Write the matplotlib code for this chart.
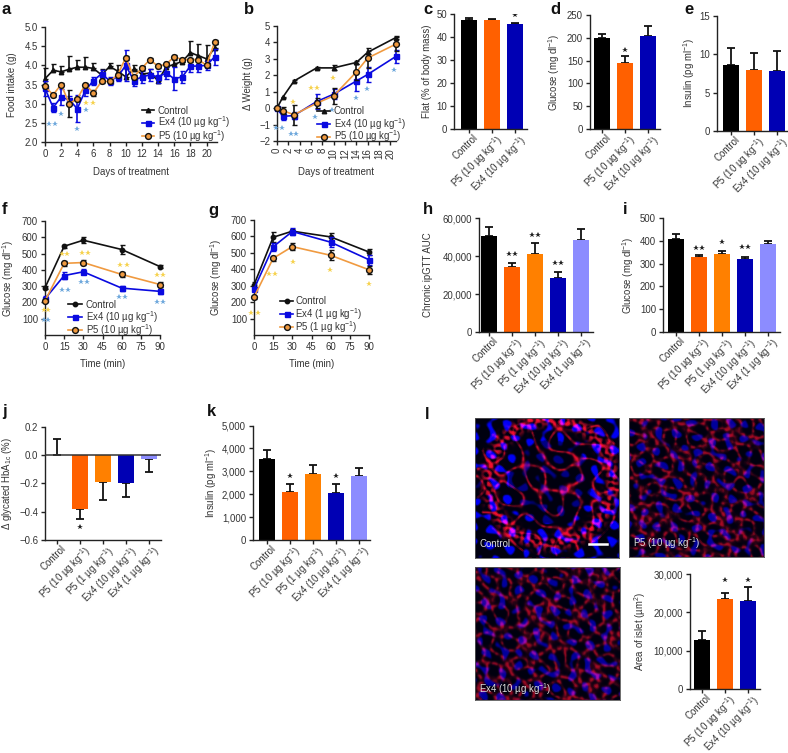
import numpy as np
import matplotlib
matplotlib.use('Agg')
import matplotlib.pyplot as plt
from matplotlib.lines import Line2D
from matplotlib.transforms import ScaledTranslation

W, H = 788, 753
FS = 6.9
plt.rcParams['font.family'] = ['Liberation Sans', 'DejaVu Sans']
plt.rcParams['mathtext.fontset'] = 'custom'
plt.rcParams['mathtext.rm'] = 'Liberation Sans'
plt.rcParams['mathtext.default'] = 'regular'
plt.rcParams['font.size'] = FS
plt.rcParams['text.color'] = '#333333'
plt.rcParams['axes.labelcolor'] = '#333333'
plt.rcParams['xtick.color'] = '#222222'
plt.rcParams['ytick.color'] = '#222222'
plt.rcParams['xtick.labelcolor'] = '#333333'
plt.rcParams['ytick.labelcolor'] = '#333333'

BLACK = '#000000'
RED_OR = '#FF6000'
ORANGE = '#FF8000'
DBLUE = '#0000B4'
LBLUE = '#8C8CFF'
LINE_BLUE = '#0A0AE0'
LINE_OR = '#F09A40'
STAR_B = '#6FA8DC'
STAR_Y = '#F6D24E'

# panel a
days_a = list(range(22))
a_ctrl = [3.65, 3.87, 3.83, 3.9, 3.95, 3.95, 3.92, 3.75, 3.97, 3.85, 3.7, 3.9, 3.77, 3.8, 3.6, 3.95, 4.03, 4.1, 4.33, 4.25, 4.17, 4.45]
a_ctrl_err = [0.27, 0.17, 0.15, 0.35, 0.2, 0.27, 0.15, 0.15, 0.1, 0.15, 0.2, 0.12, 0.2, 0.1, 0.1, 0.1, 0.1, 0.05, 0.3, 0.3, 0.35, 0.1]
a_ex4 = [3.4, 2.9, 3.17, 3.1, 2.87, 3.35, 3.6, 3.78, 3.6, 3.7, 4.0, 3.6, 3.7, 3.75, 3.7, 3.8, 3.65, 3.7, 3.98, 3.98, 4.0, 4.22]
a_ex4_err = [0.2, 0.12, 0.2, 0.1, 0.35, 0.15, 0.1, 0.1, 0.1, 0.1, 0.4, 0.15, 0.15, 0.15, 0.15, 0.15, 0.3, 0.15, 0.15, 0.15, 0.12, 0.2]
a_p5 = [3.45, 3.23, 3.5, 3.0, 3.13, 3.5, 3.28, 3.58, 3.58, 3.75, 4.2, 3.7, 3.93, 4.15, 3.97, 4.03, 4.22, 4.15, 4.15, 4.15, 4.0, 4.6]
a_p5_err = [0.05, 0.05, 0.05, 0.35, 0.05, 0.05, 0.08, 0.05, 0.05, 0.05, 0.05, 0.05, 0.05, 0.05, 0.05, 0.05, 0.05, 0.05, 0.05, 0.05, 0.05, 0.05]
a_stars_b = [(0.5, 2.48), (1.2, 2.48), (2, 2.72), (4, 2.35), (5.1, 2.83)]
a_stars_y = [(5.1, 3.02), (6, 3.03)]

# panel b
days_b = [0, 1, 3, 7, 10, 14, 16, 21]
b_ctrl = [0, 0.65, 1.65, 2.45, 2.45, 2.78, 3.4, 4.3]
b_ctrl_err = [0, 0.05, 0.08, 0.08, 0.15, 0.1, 0.1, 0.1]
b_ex4 = [0, -0.5, -0.45, 0.4, 0.85, 1.65, 2.05, 3.15]
b_ex4_err = [0, 0.2, 0.2, 0.45, 0.3, 0.6, 0.45, 0.4]
b_p5 = [0, -0.15, -0.4, 0.3, 0.75, 2.2, 3.05, 3.9]
b_p5_err = [0, 0.2, 0.6, 0.3, 0.5, 0.5, 0.6, 0.45]
b_stars_b = [(-0.1, -1.2), (0.9, -1.2), (2.5, -1.55), (3.4, -1.55), (6.7, -0.55), (9.7, -0.1), (13.9, 0.6), (15.9, 1.15), (20.7, 2.3)]
b_stars_y = [(2.8, 0.35), (6, 1.25), (7, 1.25), (9.8, 1.85)]

# panels f, g
times = [0, 15, 30, 60, 90]
f_ctrl = [290, 545, 582, 525, 420]
f_ctrl_err = [10, 10, 20, 25, 10]
f_ex4 = [222, 365, 388, 288, 268]
f_ex4_err = [15, 20, 15, 15, 15]
f_p5 = [210, 440, 445, 372, 310]
f_p5_err = [10, 15, 15, 15, 15]
f_stars_y = [(-1, 155), (2, 155), (13, 496), (17, 496), (29, 504), (33.7, 504), (59, 428), (64.4, 428), (88, 371), (92.7, 371)]
f_stars_b = [(-1, 92), (2, 92), (13.3, 275), (18, 275), (28, 327), (33, 327), (58, 235), (62.5, 235), (88, 204), (92.7, 204)]
g_ctrl = [305, 595, 632, 597, 505]
g_ctrl_err = [15, 30, 15, 25, 20]
g_ex4 = [280, 537, 630, 565, 458]
g_ex4_err = [15, 25, 20, 30, 30]
g_p5 = [230, 467, 538, 485, 397]
g_p5_err = [10, 15, 20, 30, 25]
g_stars_y = [(-2, 135), (3, 135), (12, 370), (16.8, 370), (30.5, 445), (59.7, 393), (90, 312)]

# bar panels
names3 = ['Control', 'P5 (10 µg kg$^{-1}$)', 'Ex4 (10 µg kg$^{-1}$)']
names5 = ['Control', 'P5 (10 µg kg$^{-1}$)', 'P5 (1 µg kg$^{-1}$)', 'Ex4 (10 µg kg$^{-1}$)', 'Ex4 (1 µg kg$^{-1}$)']
c_vals = [47.3, 47.4, 45.7]
c_err = [0.9, 0.6, 0.4]
d_vals = [200, 145, 203]
d_err = [8, 15, 22]
e_vals = [8.6, 7.9, 7.8]
e_err = [2.2, 2.3, 2.6]
h_vals = [50600, 34000, 41300, 28600, 48300]
h_err = [4700, 2450, 5800, 3000, 6100]
i_vals = [408, 330, 340, 318, 388]
i_err = [22, 7, 16, 11, 13]
j_vals = [0, -0.384, -0.192, -0.2, -0.03]
j_err = [0.11, 0.066, 0.124, 0.1, 0.094]
k_vals = [3540, 2080, 2870, 2050, 2810]
k_err = [390, 350, 390, 395, 330]
l_vals = [12770, 23530, 23000]
l_err = [2330, 1470, 3600]

fig = plt.figure(figsize=(W / 100, H / 100), dpi=100, facecolor='white')


def make_ax(left, right, top, bottom, ylabel_x=None, ylabel=None):
    ax = fig.add_axes([left / W, 1 - bottom / H, (right - left) / W, (bottom - top) / H])
    ax.spines['top'].set_visible(False)
    ax.spines['right'].set_visible(False)
    for s in ['left', 'bottom']:
        ax.spines[s].set_linewidth(1.0)
        ax.spines[s].set_color('#222222')
    ax.tick_params(length=3, width=1, pad=2, labelsize=FS)
    if ylabel:
        ax.set_ylabel(ylabel, fontsize=FS, va='center')
        ax.yaxis.set_label_coords((ylabel_x - left) / (right - left), 0.5)
    return ax


def line(ax, x, y, err, color, marker, ms, upper_only=False, mec=None, ecolor='#111111', z=3):
    e = [np.zeros(len(err)), err] if upper_only else err
    ax.errorbar(x, y, yerr=e, color=color, lw=1.2, marker=marker, ms=ms, mfc=color,
                mec=mec or color, mew=1.0, ecolor=ecolor, elinewidth=1.2, capsize=1.8,
                capthick=1.0, clip_on=False, zorder=z)


def stars(ax, pts, color):
    xs = [p[0] for p in pts]
    ys = [p[1] for p in pts]
    ax.plot(xs, ys, ls='none', marker='*', ms=4.2, color=color, mew=0, clip_on=False, zorder=6)


def legend(x0, x1, xt, rows, labels, first_marker='^'):
    # drawn by hand, a real legend spaces the superscript rows unevenly
    styles = [dict(color='#111111', marker=first_marker, ms=3.2),
              dict(color=LINE_BLUE, marker='s', ms=3.6),
              dict(color=LINE_OR, marker='o', ms=4.2, mec='#111111', mew=1.0)]
    for y, label, st in zip(rows, labels, styles):
        fy = 1 - y / H
        fig.add_artist(Line2D([x0 / W, x1 / W], [fy, fy], lw=1.2, transform=fig.transFigure, zorder=8, color=st['color']))
        fig.add_artist(Line2D([(x0 + x1) / 2 / W], [fy], transform=fig.transFigure, ls='none', zorder=9, **st))
        fig.text(xt / W, 1 - (y + 3.5) / H, label, fontsize=FS, va='baseline', zorder=9)


def shift_labels(ax):
    # rotated labels end a little right of their tick in the reference
    off = ScaledTranslation(3.5 / 100, 3.5 / 100, fig.dpi_scale_trans)
    for lbl in ax.get_xticklabels():
        lbl.set_transform(lbl.get_transform() + off)


def bars(ax, vals, errs, colors, names, c0, left, right, step=23):
    xs = np.arange(len(vals))
    ax.bar(xs, vals, width=0.66, color=colors, zorder=2)
    ax.errorbar(xs, vals, yerr=[np.zeros(len(errs)), errs], fmt='none', ecolor='#111111',
                elinewidth=1.3, capsize=2.6, capthick=1.3, zorder=1)
    ax.set_xlim(-(c0 - left) / step, (right - c0) / step)
    ax.set_xticks(xs)
    ax.set_xticklabels(names, rotation=45, ha='right', rotation_mode='anchor', fontsize=FS)
    shift_labels(ax)


def bar_star(ax, x, y, n=1):
    off = [0] if n == 1 else [-0.14, 0.14]
    ax.plot([x + o for o in off], [y] * n, ls='none', marker='*', ms=4, color='#222222', mew=0, zorder=6)


def panel(letter, x, y):
    fig.text(x / W, 1 - y / H, letter, fontsize=12, fontweight='bold', color='#111111', ha='left', va='center')


def quasi(xx, yy, freq, phase):
    # sum of waves in 7 directions, looks irregular but needs no random numbers
    out = np.zeros_like(xx)
    for n in range(7):
        th = n * 2.39996
        out += np.cos(freq * (1 + 0.07 * n) * (xx * np.cos(th) + yy * np.sin(th)) + phase * (n + 1))
    return out / 7


def blur(a):
    out = a.copy()
    for dx, dy in [(1, 0), (-1, 0), (0, 1), (0, -1)]:
        out = out + 0.6 * np.roll(np.roll(a, dx, 1), dy, 0)
    return out / 3.4


def micrograph(left, right, top, bottom, phase, ring=False):
    ax = fig.add_axes([left / W, 1 - bottom / H, (right - left) / W, (bottom - top) / H])
    ny, nx = int(bottom - top), int(right - left)
    yy, xx = np.mgrid[0:ny, 0:nx].astype(float)
    nuc = np.clip((quasi(xx, yy, 0.36, phase) - 0.14) / 0.14, 0, 1)
    grain = np.clip((quasi(xx, yy, 0.8, phase + 0.7) + 0.1) / 0.25, 0, 1)
    if ring:
        r = np.hypot(xx - nx * 0.52, yy - ny * 0.45) / (nx * 0.48)
        cells = np.exp(-(quasi(xx, yy, 0.17, phase) / 0.06) ** 2)
        red = (cells * (0.45 + 0.55 * grain) + 0.9 * np.exp(-((r - 0.9) / 0.09) ** 2) * grain) * (r < 1.08)
        blue = nuc * (0.5 + 0.5 * (r > 0.6)) * 0.9
    else:
        cells = np.exp(-(quasi(xx, yy, 0.26, phase) / 0.16) ** 2)
        red = 0.7 * cells * (0.25 + 0.75 * grain)
        blue = nuc * 0.55
    red = blur(np.clip(red, 0, 1))
    blue = blur(blue)
    img = np.zeros((ny, nx, 3))
    img[..., 0] = red * 0.95
    img[..., 1] = 0.06 * red
    img[..., 2] = np.clip(blue + 0.06 + 0.12 * red, 0, 1)
    ax.imshow(img, aspect='auto', interpolation='bilinear')
    ax.set_xticks([])
    ax.set_yticks([])
    for s in ax.spines.values():
        s.set_color('#555555')
        s.set_linewidth(0.6)
    return ax


# a
ax = make_ax(45, 217, 27, 142, 12, 'Food intake (g)')
line(ax, days_a, a_ctrl, a_ctrl_err, '#111111', '^', 3.2, upper_only=True, z=3)
line(ax, days_a, a_ex4, a_ex4_err, LINE_BLUE, 's', 3.6, ecolor=LINE_BLUE, z=4)
line(ax, days_a, a_p5, a_p5_err, LINE_OR, 'o', 4.2, mec='#111111', z=5)
ax.set_xlim(0, 21.3)
ax.set_ylim(2, 5)
ax.set_xticks(range(0, 21, 2))
ax.set_yticks([2, 2.5, 3, 3.5, 4, 4.5, 5])
ax.set_yticklabels(['2.0', '2.5', '3.0', '3.5', '4.0', '4.5', '5.0'])
ax.set_xlabel('Days of treatment', labelpad=6)
stars(ax, a_stars_b, STAR_B)
stars(ax, a_stars_y, STAR_Y)
legend(142, 154, 158, [110, 123, 136], ['Control', 'Ex4 (10 µg kg$^{-1}$)', 'P5 (10 µg kg$^{-1}$)'])

# b
ax = make_ax(277, 396, 26, 141, 248, 'Δ Weight (g)')
line(ax, days_b, b_ctrl, b_ctrl_err, '#111111', '^', 3.2, z=3)
line(ax, days_b, b_ex4, b_ex4_err, LINE_BLUE, 's', 3.6, ecolor=LINE_BLUE, z=4)
line(ax, days_b, b_p5, b_p5_err, LINE_OR, 'o', 4.2, mec='#111111', z=5)
ax.set_xlim(0, 21)
ax.set_ylim(-2, 5)
ax.set_xticks(range(0, 21, 2))
ax.set_xticklabels(range(0, 21, 2), rotation=90)
ax.set_yticks(range(-2, 6))
ax.set_xlabel('Days of treatment', labelpad=6)
stars(ax, b_stars_b, STAR_B)
stars(ax, b_stars_y, STAR_Y)
legend(317, 330, 334, [111, 124, 137], ['Control', 'Ex4 (10 µg kg$^{-1}$)', 'P5 (10 µg kg$^{-1}$)'])

# c
ax = make_ax(454, 527, 14, 129, 427, 'Flat (% of body mass)')
bars(ax, c_vals, c_err, [BLACK, RED_OR, DBLUE], names3, 469, 454, 527)
ax.set_ylim(0, 50)
ax.set_yticks(range(0, 51, 10))
bar_star(ax, 2, 49.6)

# d
ax = make_ax(590, 660, 15, 129, 554, 'Glucose (mg dl$^{-1}$)')
bars(ax, d_vals, d_err, [BLACK, RED_OR, DBLUE], names3, 602, 590, 660)
ax.set_ylim(0, 250)
ax.set_yticks(range(0, 251, 50))
bar_star(ax, 1, 174)

# e
ax = make_ax(717, 788, 16, 131, 689, 'Insulin (pg ml$^{-1}$)')
bars(ax, e_vals, e_err, [BLACK, RED_OR, DBLUE], names3, 731, 717, 788)
ax.set_ylim(0, 15)
ax.set_yticks([0, 5, 10, 15])

# f
ax = make_ax(45, 160, 221, 335, 8, 'Glucose (mg dl$^{-1}$)')
line(ax, times, f_ctrl, f_ctrl_err, '#111111', 'o', 3.2, z=3)
line(ax, times, f_ex4, f_ex4_err, LINE_BLUE, 's', 3.6, ecolor=LINE_BLUE, z=4)
line(ax, times, f_p5, f_p5_err, LINE_OR, 'o', 4.2, mec='#111111', z=5)
ax.set_xlim(0, 90)
ax.set_ylim(0, 700)
ax.set_xticks(range(0, 91, 15))
ax.set_yticks(range(100, 701, 100))
ax.set_xlabel('Time (min)', labelpad=5)
stars(ax, f_stars_y, STAR_Y)
stars(ax, f_stars_b, STAR_B)
legend(68, 82, 86, [304, 317, 330], ['Control', 'Ex4 (10 µg kg$^{-1}$)', 'P5 (10 µg kg$^{-1}$)'], 'o')

# g
ax = make_ax(254, 369, 220, 335, 216, 'Glucose (mg dl$^{-1}$)')
line(ax, times, g_ctrl, g_ctrl_err, '#111111', 'o', 3.2, z=3)
line(ax, times, g_ex4, g_ex4_err, LINE_BLUE, 's', 3.6, ecolor=LINE_BLUE, z=4)
line(ax, times, g_p5, g_p5_err, LINE_OR, 'o', 4.2, mec='#111111', z=5)
ax.set_xlim(0, 90)
ax.set_ylim(0, 700)
ax.set_xticks(range(0, 91, 15))
ax.set_yticks(range(100, 701, 100))
ax.set_xlabel('Time (min)', labelpad=5)
stars(ax, g_stars_y, STAR_Y)
legend(280, 293, 295, [301, 314, 327], ['Control', 'Ex4 (1 µg kg$^{-1}$)', 'P5 (1 µg kg$^{-1}$)'], 'o')

colors5 = [BLACK, RED_OR, ORANGE, DBLUE, LBLUE]

# h
ax = make_ax(479, 593, 218, 332, 428, 'Chronic ipGTT AUC')
bars(ax, h_vals, h_err, colors5, names5, 489, 479, 593)
ax.set_ylim(0, 60000)
ax.set_yticks([0, 20000, 40000, 60000])
ax.set_yticklabels(['0', '20,000', '40,000', '60,000'])
bar_star(ax, 1, 40800, 2)
bar_star(ax, 2, 50900, 2)
bar_star(ax, 3, 36100, 2)

# i
ax = make_ax(663, 780, 218, 332, 628, 'Glucose (mg dl$^{-1}$)')
bars(ax, i_vals, i_err, colors5, names5, 676, 663, 780)
ax.set_ylim(0, 500)
ax.set_yticks(range(0, 501, 100))
bar_star(ax, 1, 369, 2)
bar_star(ax, 2, 395)
bar_star(ax, 3, 372, 2)

# j
ax = make_ax(45, 161, 426.5, 540, 7, 'Δ glycated HbA$_{1c}$ (%)')
xs = np.arange(len(j_vals))
ax.bar(xs, j_vals, width=0.66, color=colors5, zorder=2)
ax.errorbar(xs, j_vals, yerr=[[0, *j_err[1:]], [j_err[0], 0, 0, 0, 0]], fmt='none', ecolor='#111111',
            elinewidth=1.3, capsize=2.6, capthick=1.3, zorder=1)
ax.axhline(0, color='#333333', lw=1.1, zorder=3)
ax.set_xlim(-12 / 23, (161 - 57) / 23)
ax.set_xticks(xs)
ax.set_xticklabels(names5, rotation=45, ha='right', rotation_mode='anchor', fontsize=FS)
shift_labels(ax)
ax.set_ylim(-0.6, 0.2)
ax.set_yticks([-0.6, -0.4, -0.2, 0.0, 0.2])
ax.set_yticklabels(['−0.6', '−0.4', '−0.2', '0.0', '0.2'])
bar_star(ax, 1, -0.508)

# k
ax = make_ax(253, 370, 425.5, 540, 211, 'Insulin (pg ml$^{-1}$)')
bars(ax, k_vals, k_err, colors5, names5, 267, 253, 370)
ax.set_ylim(0, 5000)
ax.set_yticks(range(0, 5001, 1000))
ax.set_yticklabels(['0', '1,000', '2,000', '3,000', '4,000', '5,000'])
bar_star(ax, 1, 2780)
bar_star(ax, 3, 2810)

# l micrographs
ax = micrograph(475, 619, 418, 558, 0.4, ring=True)
ax.text(0.03, 0.1, 'Control', transform=ax.transAxes, color='#DDDDDD', fontsize=FS, va='center')
ax.plot([0.79, 0.92], [0.1, 0.1], transform=ax.transAxes, color='white', lw=1.8)
ax = micrograph(629, 764, 418, 557, 1.7)
ax.text(0.03, 0.1, 'P5 (10 µg kg$^{-1}$)', transform=ax.transAxes, color='#DDDDDD', fontsize=FS, va='center')
ax = micrograph(475, 620, 567, 700, 2.9)
ax.text(0.03, 0.08, 'Ex4 (10 µg kg$^{-1}$)', transform=ax.transAxes, color='#DDDDDD', fontsize=FS, va='center')

# l bars
ax = make_ax(690, 760, 574, 689, 640, 'Area of islet (µm$^{2}$)')
bars(ax, l_vals, l_err, [BLACK, RED_OR, DBLUE], names3, 702, 690, 760)
ax.set_ylim(0, 30000)
ax.set_yticks([0, 10000, 20000, 30000])
ax.set_yticklabels(['0', '10,000', '20,000', '30,000'])
bar_star(ax, 1, 28350)
bar_star(ax, 2, 28500)

for letter, x, y in [('a', 2, 10), ('b', 244, 10), ('c', 423, 10), ('d', 550, 10), ('e', 684, 10),
                     ('f', 2, 210), ('g', 208, 210), ('h', 423, 210), ('i', 623, 210),
                     ('j', 2, 412), ('k', 207, 412), ('l', 425, 415)]:
    panel(letter, x, y)

fig.savefig('out.png', dpi=100)
